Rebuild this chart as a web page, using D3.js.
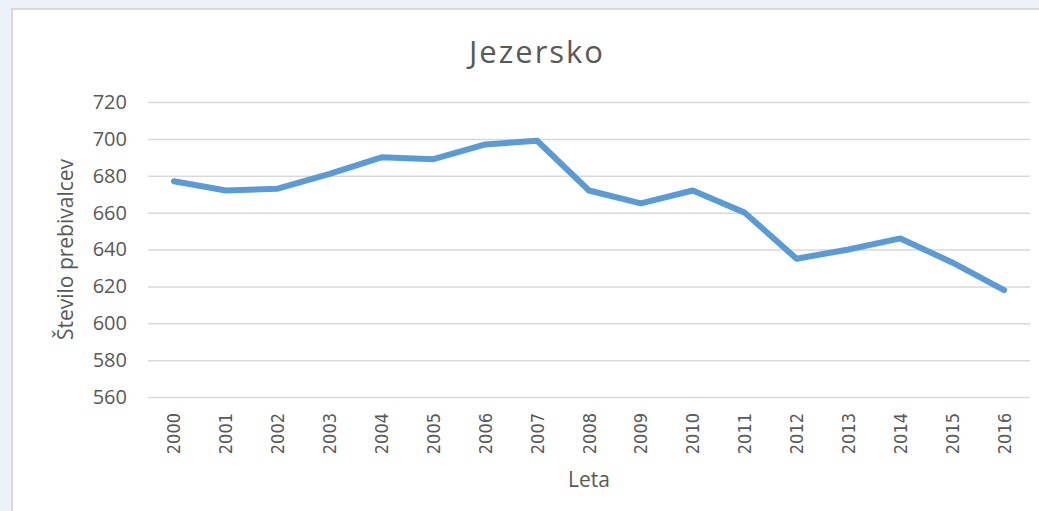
<!DOCTYPE html>
<html>
<head>
<meta charset="utf-8">
<script src="https://cdn.jsdelivr.net/npm/d3@7"></script>
<style>
  html, body { margin: 0; padding: 0; background: #edf1f8; }
  svg { display: block; }
</style>
</head>
<body>
<svg id="chart" width="1039" height="511"></svg>
<script>
  "use strict";

  // data
  var years = ['2000', '2001', '2002', '2003', '2004', '2005', '2006', '2007', '2008',
    '2009', '2010', '2011', '2012', '2013', '2014', '2015', '2016'];
  var residents = [677, 672, 673, 681, 690, 689, 697, 699, 672, 665, 672, 660, 635, 640, 646, 633, 618];
  var yTicks = [560, 580, 600, 620, 640, 660, 680, 700, 720];

  var svg = d3.select('#chart');
  var margin = { left: 148, right: 1030, top: 102, bottom: 397 };
  var textColor = '#595959';
  var font = '"Open Sans", "Liberation Sans", sans-serif';

  // frame
  svg.append('rect')
    .attr('x', 12).attr('y', 9)
    .attr('width', 1040).attr('height', 520)
    .attr('fill', '#fff')
    .attr('stroke', '#d9d9d9')
    .attr('stroke-width', 2);

  var x = d3.scaleBand()
    .domain(years)
    .range([margin.left, margin.right]);

  var y = d3.scaleLinear()
    .domain([560, 720])
    .range([margin.bottom, margin.top]);

  // grid + y labels
  var yAxis = d3.axisLeft(y)
    .tickValues(yTicks)
    .tickSize(-(margin.right - margin.left))
    .tickPadding(21);

  var gy = svg.append('g')
    .attr('transform', 'translate(' + margin.left + ',0)')
    .call(yAxis);
  gy.select('.domain').remove();
  gy.selectAll('line').attr('stroke', '#d9d9d9').attr('stroke-width', 1.5);
  gy.selectAll('text')
    .attr('fill', textColor)
    .style('font-family', font)
    .style('font-size', '20px');

  // x labels, rotated
  var xAxis = d3.axisBottom(x).tickSize(0).tickPadding(0);
  var gx = svg.append('g')
    .attr('transform', 'translate(0,' + margin.bottom + ')')
    .call(xAxis);
  gx.select('.domain').remove();
  gx.selectAll('text')
    .attr('fill', textColor)
    .attr('text-anchor', 'end')
    .attr('dy', null)
    .attr('y', 0)
    .attr('transform', 'translate(0,16) rotate(-90)')
    .attr('dominant-baseline', 'central')
    .style('font-family', '"Liberation Sans Narrow", "DejaVu Sans Condensed", sans-serif')
    .style('font-size', '18px');

  // line
  var line = d3.line()
    .x(function(d, i) { return x(years[i]) + x.bandwidth() / 2; })
    .y(function(d) { return y(d); });

  svg.append('path')
    .datum(residents)
    .attr('d', line)
    .attr('fill', 'none')
    .attr('stroke', '#5b9bd5')
    .attr('stroke-width', 6)
    .attr('stroke-linejoin', 'round')
    .attr('stroke-linecap', 'round');

  // titles
  svg.append('text')
    .attr('x', 537).attr('y', 63)
    .attr('text-anchor', 'middle')
    .attr('fill', textColor)
    .style('font-family', font)
    .style('font-size', '31px')
    .style('letter-spacing', '2px')
    .text('Jezersko');

  svg.append('text')
    .attr('x', (margin.left + margin.right) / 2).attr('y', 487)
    .attr('text-anchor', 'middle')
    .attr('fill', textColor)
    .style('font-family', font)
    .style('font-size', '21px')
    .text('Leta');

  svg.append('text')
    .attr('transform', 'translate(73,' + (margin.top + margin.bottom) / 2 + ') rotate(-90)')
    .attr('text-anchor', 'middle')
    .attr('fill', textColor)
    .style('font-family', font)
    .style('font-size', '21px')
    .text('Število prebivalcev');
</script>
</body>
</html>
